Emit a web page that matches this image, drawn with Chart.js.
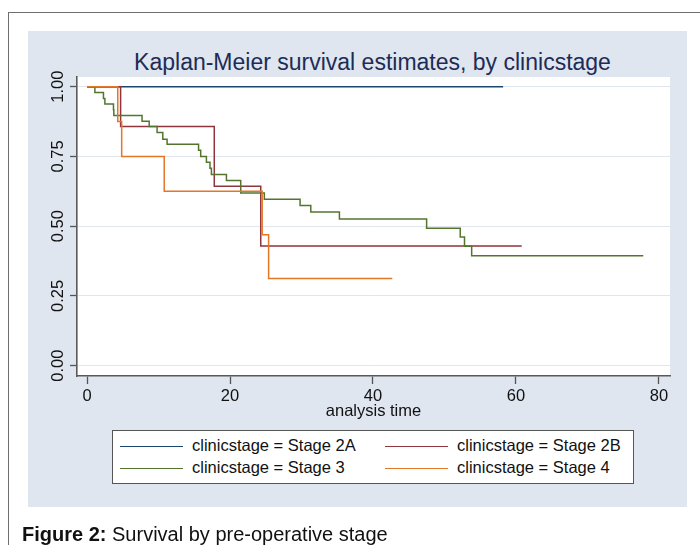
<!DOCTYPE html>
<html>
<head>
<meta charset="utf-8">
<script src="https://cdn.jsdelivr.net/npm/chart.js@4/dist/chart.umd.min.js"></script>
<style>
  html, body { margin: 0; padding: 0; background: #ffffff; }
  #wrap { position: relative; width: 700px; height: 545px; overflow: hidden; font-family: "Liberation Sans", Arial, Helvetica, sans-serif; }
  #frame { position: absolute; left: 8px; top: 12px; width: 760px; height: 600px; border-left: 1px solid #6f6f6f; border-top: 1px solid #6f6f6f; }
  #panel { position: absolute; left: 28px; top: 31px; width: 659px; height: 476px; background: #dfe6f0; }
  #chartBox { position: absolute; left: 0; top: 0; width: 700px; height: 545px; }
  #title { position: absolute; left: 0; top: 48px; width: 745px; text-align: center; font-size: 23px; line-height: 28px; color: #1d2c55; white-space: nowrap; }
  #legend { position: absolute; left: 112px; top: 430px; width: 520px; height: 52px; border: 1.5px solid #555; background: #ffffff; }
  .lg-line { position: absolute; height: 1.3px; }
  .lg-text { position: absolute; font-size: 16.5px; line-height: 20px; color: #111; white-space: nowrap; }
  #caption { position: absolute; left: 22px; top: 524px; font-size: 20px; line-height: 20px; color: #111; white-space: nowrap; }
</style>
</head>
<body>
<div id="wrap">
  <div id="frame"></div>
  <div id="panel"></div>
  <div id="title">Kaplan-Meier survival estimates, by clinicstage</div>
  <div id="chartBox"><canvas id="c" width="700" height="545"></canvas></div>
  <div id="legend"></div>
  <div id="caption"><b>Figure 2:</b> Survival by pre-operative stage</div>
</div>
<script>
// ---- data ----
const seriesNames = ["clinicstage = Stage 2A", "clinicstage = Stage 2B", "clinicstage = Stage 3", "clinicstage = Stage 4"];
const seriesColors = ["rgb(26,71,111)", "rgb(144,53,59)", "rgb(85,117,47)", "rgb(227,119,40)"];

const time2A = [0, 58.2];
const surv2A = [1.0, 1.0];

const time2B = [0, 4.7, 17.8, 24.3, 60.8];
const surv2B = [1.0, 0.857, 0.643, 0.429, 0.429];

const time3 = [0, 1.1, 2.3, 2.5, 3.7, 3.75, 7.7, 8.7, 9.8, 10.6, 11.2, 15.6, 15.9, 16.7, 17.2, 17.4, 19.5, 21.5, 24.8, 29.8, 31.3, 35.3, 47.5, 52.2, 52.8, 53.8, 77.8];
const surv3 = [1.0, 0.979, 0.958, 0.938, 0.917, 0.897, 0.876, 0.857, 0.836, 0.812, 0.794, 0.772, 0.750, 0.729, 0.708, 0.685, 0.664, 0.619, 0.597, 0.574, 0.551, 0.526, 0.493, 0.461, 0.428, 0.394, 0.394];

const time4 = [0, 4.3, 4.85, 10.8, 24.5, 25.4, 42.7];
const surv4 = [1.0, 0.875, 0.750, 0.625, 0.469, 0.3125, 0.3125];

const xTickValues = [0, 20, 40, 60, 80];
const yTickValues = [0, 0.25, 0.5, 0.75, 1];
const yTickLabels = ["0.00", "0.25", "0.50", "0.75", "1.00"];

const FONT = '"Liberation Sans", Arial, Helvetica, sans-serif';

function pts(t, s) { return t.map((v, i) => ({ x: v, y: s[i] })); }

const seriesData = [pts(time2A, surv2A), pts(time2B, surv2B), pts(time3, surv3), pts(time4, surv4)];

const datasets = seriesData.map((d, i) => ({
  label: seriesNames[i],
  data: d,
  borderColor: seriesColors[i],
  backgroundColor: seriesColors[i],
  borderWidth: 1.5,
  pointRadius: 0,
  pointHoverRadius: 0,
  stepped: 'before',
  fill: false,
  tension: 0,
  borderCapStyle: 'butt',
  borderJoinStyle: 'miter',
  order: 4 - i
}));

const plotPlugin = {
  id: 'plotDecor',
  beforeDraw(chart) {
    const { ctx, chartArea: a } = chart;
    ctx.save();
    ctx.fillStyle = '#ffffff';
    ctx.fillRect(a.left, a.top, a.right - a.left, a.bottom - a.top);
    ctx.restore();
  },
  afterDraw(chart) {
    const ctx = chart.ctx;
    const ys = chart.scales.y;
    ctx.save();
    ctx.fillStyle = '#111';
    ctx.font = '16.5px ' + FONT;
    ctx.textAlign = 'center';
    ctx.textBaseline = 'alphabetic';
    yTickValues.forEach((v, i) => {
      const py = ys.getPixelForValue(v);
      ctx.save();
      ctx.translate(62.5, py);
      ctx.rotate(-Math.PI / 2);
      ctx.fillText(yTickLabels[i], 0, 0);
      ctx.restore();
    });
    ctx.restore();
  }
};

new Chart(document.getElementById('c'), {
  type: 'line',
  data: { datasets },
  plugins: [plotPlugin],
  options: {
    responsive: false,
    animation: false,
    events: [],
    layout: { padding: { left: 0, top: 77, right: 30, bottom: 119 } },
    plugins: { legend: { display: false }, title: { display: false }, tooltip: { enabled: false } },
    scales: {
      x: {
        type: 'linear',
        min: -1.4,
        max: 81.54,
        afterBuildTicks: s => { s.ticks = xTickValues.map(v => ({ value: v })); },
        afterFit: s => { s.height = 50; },
        ticks: { font: { size: 16.5, family: FONT }, color: '#111', padding: 3, maxRotation: 0, autoSkip: false, callback: v => String(v) },
        grid: { drawOnChartArea: false, drawTicks: true, tickLength: 8, tickColor: '#555', tickWidth: 1.3 },
        border: { display: true, color: '#5a5a5a', width: 1.6 },
        title: { display: true, text: 'analysis time', font: { size: 16.5, family: FONT }, color: '#111', padding: { top: 0, bottom: 4.7 } }
      },
      y: {
        type: 'linear',
        min: -0.0369,
        max: 1.0348,
        afterBuildTicks: s => { s.ticks = yTickValues.map(v => ({ value: v })); },
        afterFit: s => { s.width = 77; },
        ticks: { display: false },
        grid: { drawOnChartArea: true, color: '#e1e6ee', lineWidth: 1, drawTicks: true, tickLength: 7, tickColor: '#555', tickWidth: 1.3 },
        border: { display: true, color: '#5a5a5a', width: 1.6 }
      }
    }
  }
});

// ---- legend (built from the series arrays) ----
const legendCols = [{ lineL: 119.5, lineR: 183, textL: 192 }, { lineL: 385, lineR: 448, textL: 457 }];
const legendRows = [446.5, 468.5];
const wrap = document.getElementById('wrap');
seriesNames.forEach((name, i) => {
  const col = legendCols[i % 2];
  const rowY = legendRows[Math.floor(i / 2)];
  const ln = document.createElement('div');
  ln.className = 'lg-line';
  ln.style.left = col.lineL + 'px';
  ln.style.width = (col.lineR - col.lineL) + 'px';
  ln.style.top = (rowY - 0.6) + 'px';
  ln.style.background = seriesColors[i];
  wrap.appendChild(ln);
  const tx = document.createElement('div');
  tx.className = 'lg-text';
  tx.style.left = col.textL + 'px';
  tx.style.top = (rowY - 11.4) + 'px';
  tx.textContent = name;
  wrap.appendChild(tx);
});
</script>
</body>
</html>
